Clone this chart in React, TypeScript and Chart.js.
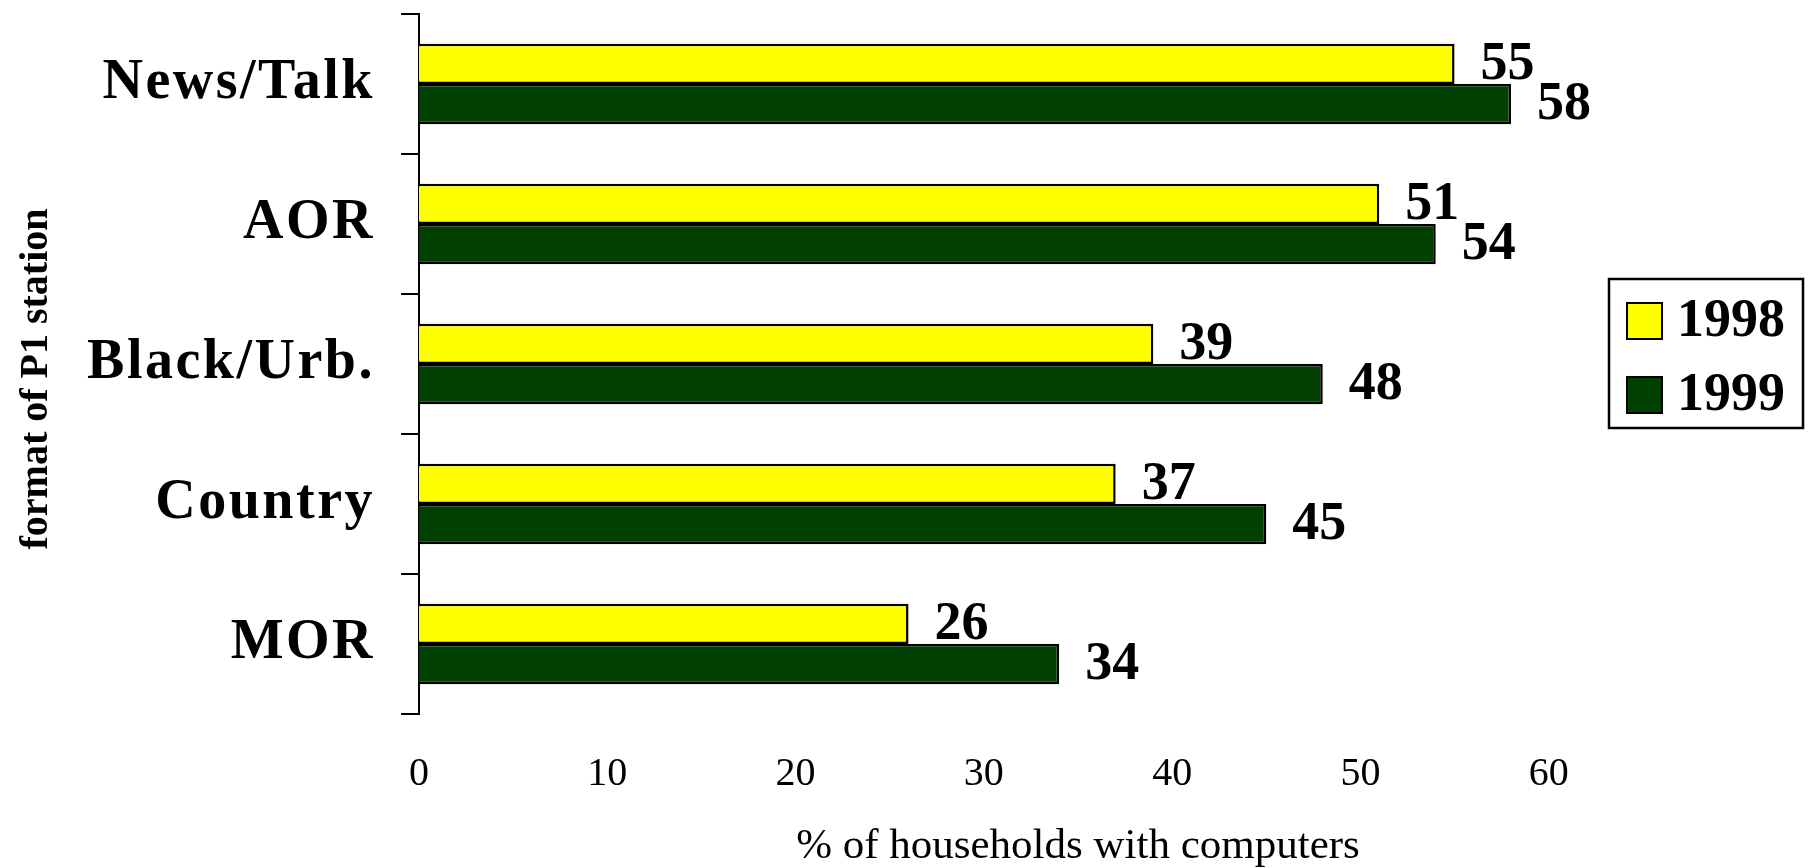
import React, { useEffect, useRef } from "react";
import { Chart, registerables } from "chart.js";

Chart.register(...registerables);

const categories = ["News/Talk", "AOR", "Black/Urb.", "Country", "MOR"];
const seriesNames = ["1998", "1999"];
const values1998 = [55, 51, 39, 37, 26];
const values1999 = [58, 54, 48, 45, 34];
const seriesColors = ["#FFFF00", "#004000"];
const xTicksShown = [0, 10, 20, 30, 40, 50, 60];
const xTitle = "% of households with computers";
const yTitle = "format of P1 station";

const FONT = "'Liberation Serif', 'Times New Roman', serif";

const valueLabels = {
  id: "valueLabels",
  afterDatasetsDraw(chart: any) {
    const ctx = chart.ctx;
    ctx.save();
    ctx.font = `bold 54px ${FONT}`;
    ctx.fillStyle = "#000";
    ctx.textAlign = "left";
    ctx.textBaseline = "middle";
    chart.data.datasets.forEach((ds: any, di: number) => {
      const meta = chart.getDatasetMeta(di);
      meta.data.forEach((bar: any, i: number) => {
        ctx.fillText(String(ds.data[i]), bar.x + 26, bar.y + 1);
      });
    });
    ctx.restore();
  },
};

// spaced lettering for the category labels (drawn after datasets, z = 1)
const labelSpacing = {
  id: "labelSpacing",
  afterDatasetsDraw(chart: any) {
    (chart.ctx as any).letterSpacing = "2.5px";
  },
  afterDraw(chart: any) {
    (chart.ctx as any).letterSpacing = "0px";
  },
};

const boxedLegend = {
  id: "boxedLegend",
  afterDraw(chart: any) {
    const ctx = chart.ctx;
    ctx.save();
    (ctx as any).letterSpacing = "0px";
    ctx.fillStyle = "#fff";
    ctx.strokeStyle = "#000";
    ctx.lineWidth = 2.5;
    ctx.fillRect(1609, 279, 194, 149);
    ctx.strokeRect(1609, 279, 194, 149);
    const rows = [303, 377];
    chart.data.datasets.forEach((ds: any, i: number) => {
      const y = rows[i];
      ctx.fillStyle = ds.backgroundColor;
      ctx.fillRect(1627, y, 35, 36);
      ctx.lineWidth = 2;
      ctx.strokeStyle = "#000";
      ctx.strokeRect(1627, y, 35, 36);
      ctx.fillStyle = "#000";
      ctx.font = `bold 54px ${FONT}`;
      ctx.textAlign = "left";
      ctx.textBaseline = "middle";
      ctx.fillText(ds.label, 1677, y + 19);
    });
    ctx.restore();
  },
};

export default function App() {
  const ref = useRef<HTMLCanvasElement>(null);
  useEffect(() => {
    if (!ref.current) return;
    const chart = new Chart(ref.current, {
      type: "bar",
      data: {
        labels: categories,
        datasets: [
          {
            label: seriesNames[0],
            data: values1998,
            backgroundColor: seriesColors[0],
            borderColor: "#000",
            borderWidth: 2.5,
            categoryPercentage: 0.574,
            barPercentage: 1,
          },
          {
            label: seriesNames[1],
            data: values1999,
            backgroundColor: seriesColors[1],
            borderColor: "#000",
            borderWidth: 2.5,
            categoryPercentage: 0.574,
            barPercentage: 1,
          },
        ],
      },
      options: {
        indexAxis: "y",
        animation: false,
        responsive: false,
        devicePixelRatio: 1,
        layout: { padding: { top: 14, right: 71, bottom: 0, left: 0 } },
        plugins: {
          legend: { display: false },
          tooltip: { enabled: false },
          title: { display: false },
        },
        scales: {
          x: {
            type: "linear",
            min: 0,
            max: 70,
            grid: { display: false, drawTicks: false },
            border: { display: false },
            ticks: {
              stepSize: 10,
              autoSkip: false,
              padding: 36,
              color: "#000",
              font: { family: FONT, size: 40 },
              callback: (v: any) => (xTicksShown.includes(Number(v)) ? String(v) : ""),
            },
            title: {
              display: true,
              text: xTitle,
              color: "#000",
              font: { family: FONT, size: 43, lineHeight: 1 },
              padding: { top: 0, bottom: 0 },
            },
            afterFit: (s: any) => {
              s.height = 868 - 714;
              s.paddingLeft = 0;
              s.paddingRight = 0;
            },
          },
          y: {
            type: "category",
            offset: true,
            grid: {
              display: true,
              drawOnChartArea: false,
              drawTicks: true,
              tickLength: 18,
              color: "#000",
              lineWidth: 2,
              offset: true,
            },
            border: { display: true, color: "#000", width: 2 },
            ticks: {
              z: 1,
              padding: 26,
              color: "#000",
              font: { family: FONT, size: 56, weight: "bold" },
            },
            title: {
              display: true,
              text: yTitle + "   ",
              color: "#000",
              font: { family: FONT, size: 40, weight: "bold" },
              padding: { top: 13, bottom: 0 },
            },
            afterFit: (s: any) => {
              s.width = 419;
              s.paddingTop = 0;
              s.paddingBottom = 0;
            },
          },
        },
      } as any,
      plugins: [valueLabels, labelSpacing, boxedLegend],
    });
    return () => chart.destroy();
  }, []);
  return (
    <div style={{ position: "fixed", left: 0, top: 0, width: 1808, height: 868, background: "#fff" }}>
      <canvas ref={ref} width={1808} height={868} />
    </div>
  );
}
